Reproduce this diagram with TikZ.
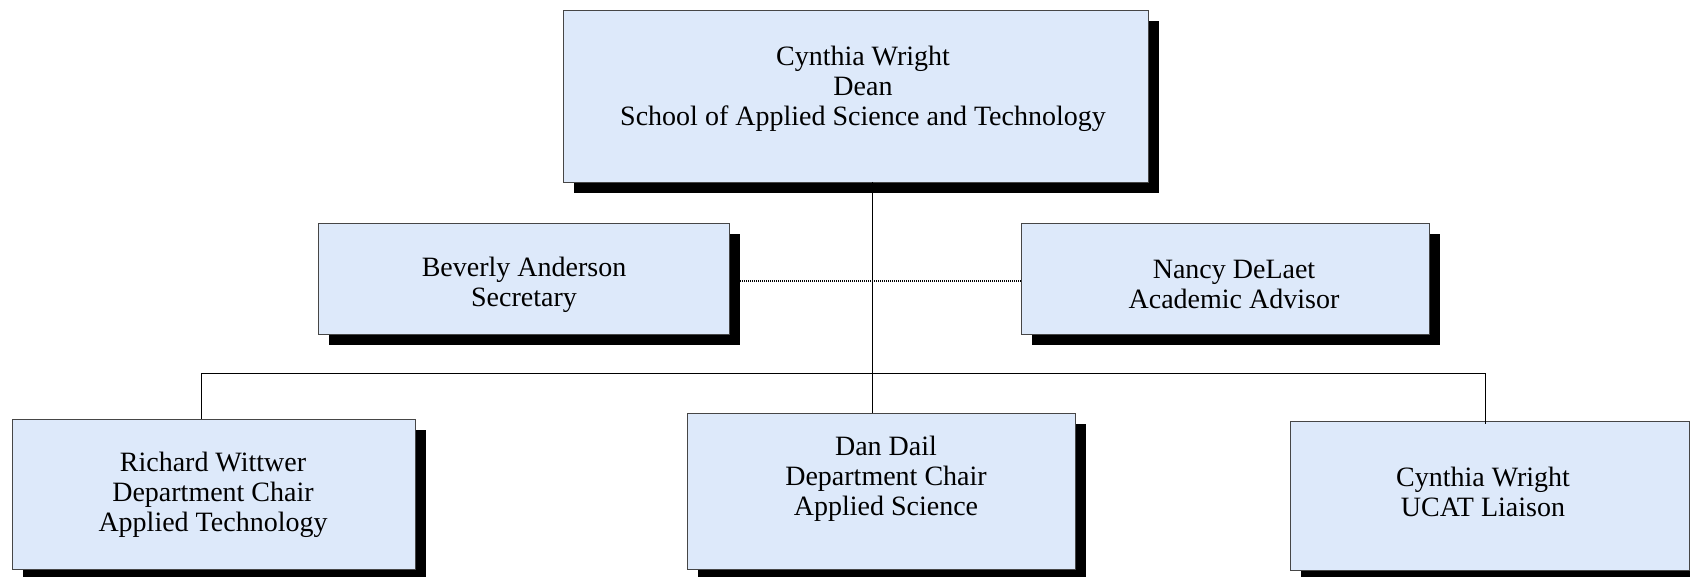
\documentclass[tikz,border=0pt]{standalone}
\usepackage{fontspec}
\setmainfont{Liberation Serif}
\begin{document}
\begin{tikzpicture}[x=0.75pt,y=0.75pt,yscale=-1,xscale=1,
  box/.style={draw={rgb, 255:red, 70; green, 70; blue, 70 }, line width=0.7pt, fill={rgb, 255:red, 221; green, 233; blue, 250 }, inner sep=0pt, outer sep=0pt,
    preaction={fill=black, transform canvas={xshift=8.25pt,yshift=-8.25pt}}},
  lbl/.style={inner sep=0.75pt, align=center, font=\fontsize{21}{22.6}\selectfont},
  conn/.style={line width=0.6pt}]
\useasboundingbox (0,0) rectangle (1690,577);

%Shape: Rectangle [dean]
\node [box, minimum width=438.75pt, minimum height=129pt] (dean) at (855.5,96) {};
%Shape: Rectangle [secretary]
\node [box, minimum width=308.25pt, minimum height=83.25pt] (bev) at (523.5,278.5) {};
%Shape: Rectangle [advisor]
\node [box, minimum width=306pt, minimum height=83.25pt] (nancy) at (1225,278.5) {};
%Shape: Rectangle [applied technology]
\node [box, minimum width=302.25pt, minimum height=112.5pt] (rich) at (213.5,494) {};
%Shape: Rectangle [applied science]
\node [box, minimum width=291pt, minimum height=117pt] (dan) at (881,491) {};
%Shape: Rectangle [liaison]
\node [box, minimum width=299.25pt, minimum height=111.75pt] (ucat) at (1489.5,495.5) {};

%Straight Lines
\coordinate (trunk) at (872,373);
\coordinate (busL) at (201,373);
\coordinate (busR) at (1485,373);
\draw [conn] (dean.south -| trunk) -- (dan.north -| trunk);
\draw [conn] (busL) -- (busR);
\draw [conn] (busL) -- (rich.north -| busL);
\draw [conn] (busR) -- ([yshift=2.25pt]ucat.north -| busR);
%Dotted Line
\draw [line width=1.1pt, dash pattern=on 0.75pt off 0.75pt] ([xshift=8.25pt,yshift=2pt]bev.east) -- ([yshift=2pt]nancy.west);

% Text Node
\draw (863,88.5) node [lbl] (deantxt) {Cynthia Wright\\Dean\\School of Applied Science and Technology};
% Text Node
\draw (524,284.5) node [lbl] (bevtxt) {Beverly Anderson\\Secretary};
% Text Node
\draw (1234,284.5) node [lbl] (nancytxt) {Nancy DeLaet\\Academic Advisor};
% Text Node
\draw (213,495) node [lbl] (richtxt) {Richard Wittwer\\Department Chair\\Applied Technology};
% Text Node
\draw (886,479) node [lbl] (dantxt) {Dan Dail\\Department Chair\\Applied Science};
% Text Node
\draw (1483,492) node [lbl] (ucattxt) {Cynthia Wright\\UCAT Liaison};

\end{tikzpicture}
\end{document}
